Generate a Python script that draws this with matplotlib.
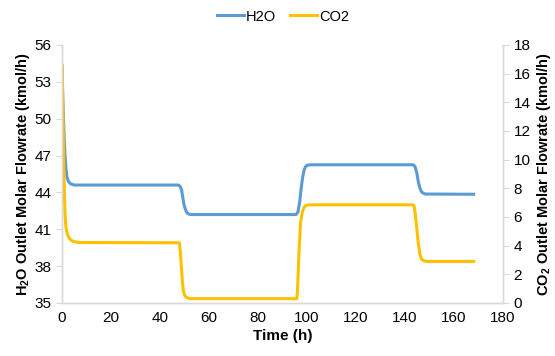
import matplotlib
matplotlib.use("Agg")
import matplotlib.pyplot as plt

plt.rcParams['font.family'] = ['Liberation Sans', 'DejaVu Sans']
plt.rcParams['mathtext.fontset'] = 'custom'
plt.rcParams['mathtext.rm'] = 'Liberation Sans'
plt.rcParams['mathtext.bf'] = 'Liberation Sans:bold'

# H2O outlet flow (left axis)
t_h2o = [0, 0.3, 0.6, 0.9, 1.2, 1.6, 2.0, 2.6, 3.5, 5,
         47.5, 48.2, 48.8, 49.3, 49.8, 50.4, 51.0, 51.6, 52.5,
         95.5, 96.3, 97.0, 97.6, 98.2, 98.8, 99.4, 100.2, 101.5,
         143.4, 144.1, 144.8, 145.4, 146.0, 146.6, 147.3, 148.3, 168]
h2o = [54.3, 52.0, 50.0, 48.3, 47.1, 46.0, 45.3, 44.9, 44.7, 44.6,
       44.6, 44.5, 44.2, 43.6, 43.0, 42.6, 42.35, 42.25, 42.2,
       42.2, 42.4, 43.2, 44.3, 45.2, 45.8, 46.1, 46.22, 46.25,
       46.25, 46.1, 45.6, 44.9, 44.4, 44.1, 43.95, 43.87, 43.85]

# CO2 outlet flow (right axis)
t_co2 = [0, 0.3, 0.6, 0.9, 1.2, 1.6, 2.2, 3.0, 4.0, 5.0, 7.0,
         47.9, 48.3, 48.7, 49.1, 49.5, 50.0, 50.7, 51.6, 52.5,
         95.8, 96.1, 96.4, 96.8, 97.4, 98.0, 98.7, 99.5, 101,
         143.4, 143.8, 144.2, 144.7, 145.4, 146.1, 146.8, 147.6, 149, 168]
co2 = [16.6, 14.0, 11.0, 8.3, 6.3, 5.3, 4.8, 4.5, 4.35, 4.28, 4.22,
       4.2, 3.6, 2.6, 1.6, 0.9, 0.55, 0.4, 0.33, 0.3,
       0.3, 0.8, 2.0, 3.8, 5.6, 6.3, 6.65, 6.8, 6.85,
       6.85, 6.7, 6.2, 5.4, 4.2, 3.4, 3.05, 2.95, 2.9, 2.9]

xticks = list(range(0, 181, 20))
left_ticks = [35, 38, 41, 44, 47, 50, 53, 56]
right_ticks = list(range(0, 19, 2))

fig = plt.figure(figsize=(5.55, 3.56), dpi=100)
ax = fig.add_axes([0.1117, 0.1489, 0.7946, 0.7247])
ax2 = ax.twinx()

grey = '#d9d9d9'
l1, = ax.plot(t_h2o, h2o, color='#5b9bd5', lw=2.2, label='H2O')
l2, = ax2.plot(t_co2, co2, color='#ffc000', lw=2.2, label='CO2')

ax.set_xlim(0, 180)
ax.set_ylim(35, 56)
ax2.set_ylim(0, 18)
ax.set_xticks(xticks)
ax.set_yticks(left_ticks)
ax2.set_yticks(right_ticks)

for a in (ax, ax2):
    for s in a.spines.values():
        s.set_color(grey)
        s.set_linewidth(1.0)
    a.spines['top'].set_visible(False)
    a.tick_params(labelsize=11, colors='black', length=4, color=grey)
ax.tick_params(axis='x', length=0, pad=6)

ax.set_xlabel('Time (h)', fontsize=11, fontweight='bold', labelpad=3)
ax.set_ylabel(r'H$_{\mathbf{2}}$O Outlet Molar Flowrate (kmol/h)', fontsize=10.5, fontweight='bold', labelpad=2)
ax2.set_ylabel(r'CO$_{\mathbf{2}}$ Outlet Molar Flowrate (kmol/h)', fontsize=10.5, fontweight='bold', labelpad=3)

fig.legend(handles=[l1, l2], loc='upper center', bbox_to_anchor=(0.51, 1.01), ncol=2,
           frameon=False, fontsize=10.5, handlelength=1.8, handletextpad=0.15, columnspacing=1.0)

fig.savefig('out.png', dpi=100)
